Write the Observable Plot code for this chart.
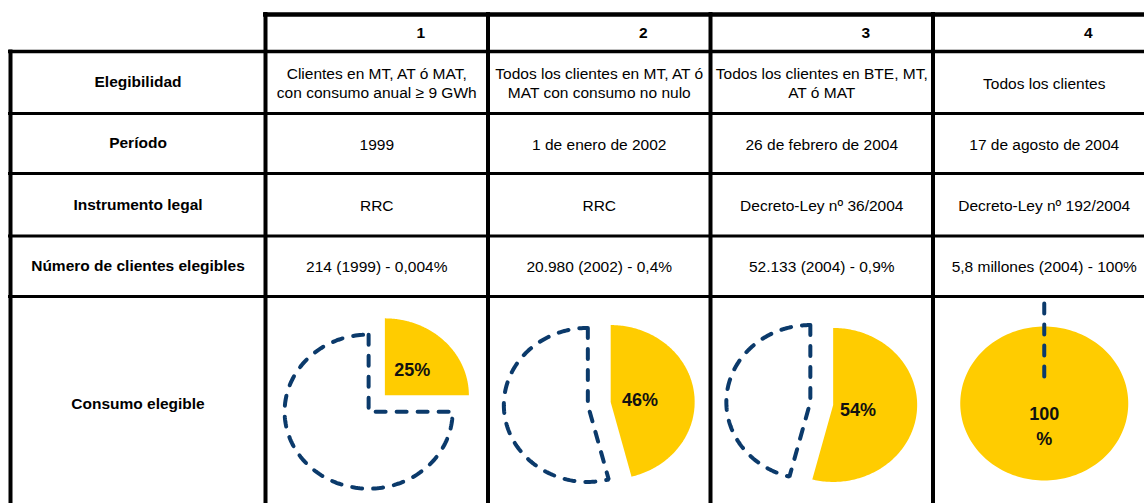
<!DOCTYPE html>
<html><head><meta charset="utf-8">
<script src="https://cdn.jsdelivr.net/npm/d3@7"></script>
<script src="https://cdn.jsdelivr.net/npm/@observablehq/plot@0.6"></script>
<style>body{margin:0;background:#fff;} #chart svg{display:block;}</style>
</head><body><div id="chart"></div>
<script>
// ---------- DATA ----------
const columns = ["1", "2", "3", "4"];
const rowLabels = ["Elegibilidad", "Período", "Instrumento legal", "Número de clientes elegibles", "Consumo elegible"];
const elegibilidad = ["Clientes en MT, AT ó MAT,\ncon consumo anual ≥ 9 GWh", "Todos los clientes en MT, AT ó\nMAT con consumo no nulo", "Todos los clientes en BTE, MT,\nAT ó MAT", "Todos los clientes"];
const periodo = ["1999", "1 de enero de 2002", "26 de febrero de 2004", "17 de agosto de 2004"];
const instrumento = ["RRC", "RRC", "Decreto-Ley nº 36/2004", "Decreto-Ley nº 192/2004"];
const clientes = ["214 (1999) - 0,004%", "20.980 (2002) - 0,4%", "52.133 (2004) - 0,9%", "5,8 millones (2004) - 100%"];
const consumoPct = [25, 46, 54, 100];
const consumoLabels = ["25%", "46%", "54%", "100\n%"];

// ---------- LAYOUT ----------
const W = 1144, H = 503;
const tableLeft = 10, labelW = 255, colW = 222.5;
const rowEdges = [14, 51, 113, 173, 235.5, 296, 512];
const colEdge = i => tableLeft + labelW + i * colW;
const colCenter = i => colEdge(i) + colW / 2;
const rowCenter = r => (rowEdges[r] + rowEdges[r + 1]) / 2;
const labelCenter = tableLeft + labelW / 2;
const pieCY = 403, rx = 84, ry = 77, explode = 23;
const YELLOW = "#FFCC00", NAVY = "#0b3a6b";
const FS = 15.5;

// grid lines
const vLines = [
  {x: tableLeft, y1: 49.5, y2: 520, w: 4},
  ...[0, 1, 2, 3].map(i => ({x: colEdge(i), y1: 12, y2: 520, w: 4}))
];
const hLines = [
  {y: rowEdges[0], x1: colEdge(0) - 2, x2: W + 20, w: 4.5},
  ...rowEdges.slice(1, 6).map((y, k) => ({y, x1: tableLeft - 2, x2: W + 20, w: k === 0 ? 3.5 : 3}))
];

// text cells
const headerCells = columns.map((c, i) => ({x: colCenter(i) + 44, y: rowCenter(0), t: c}));
const labelCells = rowLabels.map((t, r) => ({x: labelCenter, y: rowCenter(r + 1), t}));
const bodyRows = [elegibilidad, periodo, instrumento, clientes];
const bodyCells = bodyRows.flatMap((row, r) => row.map((t, i) => ({x: colCenter(i), y: rowCenter(r + 1), t})));

// pies
const slices = [], outlines = [], pieLabels = [];
consumoPct.forEach((pct, i) => {
  const p = pct / 100, a1 = 2 * Math.PI * p, mid = a1 / 2;
  const ux = Math.sin(mid), uy = -Math.cos(mid);
  const yc = [ux * explode / 2, uy * explode / 2];
  const dc = [-ux * explode / 2, -uy * explode / 2];
  const pt = (c, a) => [c[0] + rx * Math.sin(a), c[1] - ry * Math.cos(a)];
  const N = 180;
  const ys = [yc];
  for (let k = 0; k <= N; k++) ys.push(pt(yc, a1 * k / N));
  ys.push(yc);
  let ds;
  if (p < 1) {
    ds = [pt(dc, 0), dc];
    for (let k = 0; k <= N; k++) ds.push(pt(dc, a1 + (2 * Math.PI - a1) * k / N));
  } else {
    ds = [pt(dc, 0), dc];
  }
  // bounding box of slices with non-zero value
  const boxPts = p < 1 ? ys.concat(ds) : ys;
  const bx = d3.extent(boxPts, d => d[0]), by = d3.extent(boxPts, d => d[1]);
  const sx = colCenter(i) - (bx[0] + bx[1]) / 2, sy = pieCY - (by[0] + by[1]) / 2;
  ys.forEach(d => slices.push({pie: i, x: d[0] + sx, y: d[1] + sy}));
  ds.forEach(d => outlines.push({pie: i, x: d[0] + sx, y: d[1] + sy}));
  const alpha = Math.max(mid, 1e-6);
  const centroid = 2 * ((rx + ry) / 2) * Math.sin(alpha) / (3 * alpha);
  const dist = Math.max(0.8 * centroid, 21);
  pieLabels.push({x: yc[0] + sx + ux * dist, y: yc[1] + sy + uy * dist, t: consumoLabels[i]});
});

const chart = Plot.plot({
  width: W, height: H, margin: 0,
  x: {domain: [0, W], range: [0, W], axis: null},
  y: {domain: [0, H], range: [0, H], axis: null},
  style: {fontFamily: "'Liberation Sans', Arial, sans-serif", background: "white", overflow: "hidden"},
  marks: [
    Plot.line(slices, {x: "x", y: "y", z: "pie", fill: YELLOW, stroke: "none", curve: "linear"}),
    Plot.line(outlines, {x: "x", y: "y", z: "pie", stroke: NAVY, strokeWidth: 4, strokeDasharray: "10,11", curve: "linear", strokeLinejoin: "miter"}),
    Plot.text(pieLabels, {x: "x", y: "y", text: "t", fontSize: 18, fontWeight: "bold", fill: "#111", lineHeight: 1.4}),
    Plot.ruleX(vLines, {x: "x", y1: "y1", y2: "y2", strokeWidth: d => d.w, stroke: "black"}),
    Plot.ruleY(hLines, {y: "y", x1: "x1", x2: "x2", strokeWidth: d => d.w, stroke: "black"}),
    Plot.text(headerCells, {x: "x", y: "y", text: "t", fontSize: FS, fontWeight: "bold", fill: "black"}),
    Plot.text(labelCells, {x: "x", y: "y", text: "t", fontSize: FS, fontWeight: "bold", fill: "black"}),
    Plot.text(bodyCells, {x: "x", y: "y", text: "t", fontSize: FS, fill: "black", lineHeight: 1.22})
  ]
});
document.getElementById("chart").append(chart);
</script>
</body></html>
